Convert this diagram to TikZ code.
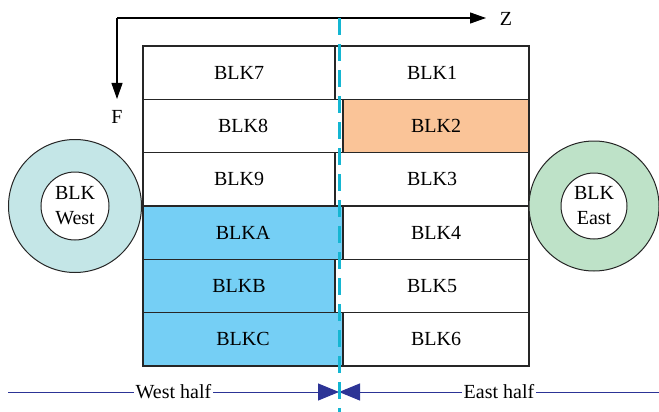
\documentclass[tikz,border=0pt]{standalone}
\usepackage{fontspec}
\setmainfont{Liberation Serif}
\usetikzlibrary{shapes,arrows.meta,positioning}

\definecolor{westring}{RGB}{196,230,231}
\definecolor{eastring}{RGB}{190,226,200}
\definecolor{hotblk}{RGB}{250,196,152}
\definecolor{westblk}{RGB}{117,207,245}
\definecolor{cutcol}{RGB}{20,182,210}
\definecolor{halfcol}{RGB}{44,52,150}

\begin{document}
\begin{tikzpicture}[x=1pt,y=-1pt]

  \useasboundingbox (0,0) rectangle (659,412);

  \coordinate (Origin) at (117,18);
  \coordinate (ZTip) at (486,18);
  \coordinate (FTip) at (117,99);

  \coordinate (Blk7) at (239,72.7);
  \coordinate (Blk1) at (432,72.7);
  \coordinate (Blk8) at (243,126);
  \coordinate (Blk2) at (436,126);
  \coordinate (Blk9) at (239,179.3);
  \coordinate (Blk3) at (432,179.3);
  \coordinate (BlkA) at (243,232.7);
  \coordinate (Blk4) at (436,232.7);
  \coordinate (BlkB) at (239,286);
  \coordinate (Blk5) at (432,286);
  \coordinate (BlkC) at (243,339.3);
  \coordinate (Blk6) at (436,339.3);

  \coordinate (West) at (75,206);
  \coordinate (East) at (594,206);

  \coordinate (CutTop) at (339,18);
  \coordinate (CutBot) at (339,412);
  \coordinate (WestEnd) at (8,392);
  \coordinate (EastEnd) at (659,392);
  \coordinate (Mid) at (339,392);

  \tikzstyle{cbox}=[draw=black!85,line width=1.3pt,
                    shape=rectangle,inner sep=0pt,
                    minimum height=53.3pt,text badly centered,
                    font=\fontsize{20}{24}\selectfont];
  \tikzstyle{lnarrow}=[cbox,minimum width=192pt];
  \tikzstyle{lwide}=[cbox,minimum width=200pt];
  \tikzstyle{rwide}=[cbox,minimum width=194pt];
  \tikzstyle{rnarrow}=[cbox,minimum width=186pt];
  \tikzstyle{ring}=[draw=black!85,line width=1pt,shape=circle,inner sep=0pt];
  \tikzstyle{hub}=[ring,fill=white,align=center,
                   font=\fontsize{20}{25}\selectfont];
  \tikzstyle{axis}=[-{Triangle[length=16pt,width=11pt]},line width=1.1pt,black];
  \tikzstyle{halfline}=[-{Triangle[length=21pt,width=17pt]},line width=1pt,color=halfcol];
  \tikzstyle{halflabel}=[fill=white,text=black,inner sep=2pt,
                         font=\fontsize{20}{24}\selectfont];

  % axes
  \draw[axis] (Origin) -- (ZTip);
  \draw[axis] (Origin) -- (FTip);
  \node[font=\fontsize{20}{24}\selectfont] (ZLabel) at (506,19) {Z};
  \node[font=\fontsize{20}{24}\selectfont] (FLabel) at (117,117) {F};

  % blocks
  \node[lnarrow] (Blk7Box) at (Blk7) {BLK7};
  \node[rwide] (Blk1Box) at (Blk1) {BLK1};
  \node[lwide] (Blk8Box) at (Blk8) {BLK8};
  \node[rnarrow,fill=hotblk] (Blk2Box) at (Blk2) {BLK2};
  \node[lnarrow] (Blk9Box) at (Blk9) {BLK9};
  \node[rwide] (Blk3Box) at (Blk3) {BLK3};
  \node[lwide,fill=westblk] (BlkABox) at (BlkA) {BLKA};
  \node[rnarrow] (Blk4Box) at (Blk4) {BLK4};
  \node[lnarrow,fill=westblk] (BlkBBox) at (BlkB) {BLKB};
  \node[rwide] (Blk5Box) at (Blk5) {BLK5};
  \node[lwide,fill=westblk] (BlkCBox) at (BlkC) {BLKC};
  \node[rnarrow] (Blk6Box) at (Blk6) {BLK6};

  % rings
  \node[ring,fill=westring,minimum size=133pt] (WestRing) at (West) {};
  \node[hub,minimum size=68pt] (WestHub) at (West) {BLK\\West};
  \node[ring,fill=eastring,minimum size=130pt] (EastRing) at (East) {};
  \node[hub,minimum size=66pt] (EastHub) at (East) {BLK\\East};

  % halves
  \draw[halfline] (WestEnd) -- node[halflabel]{West half} (Mid);
  \draw[halfline] (EastEnd) -- node[halflabel]{East half} (Mid);

  % cut line
  \draw[color=cutcol,line width=3pt,dash pattern=on 17pt off 9pt] (CutTop) -- (CutBot);

\end{tikzpicture}
\end{document}
